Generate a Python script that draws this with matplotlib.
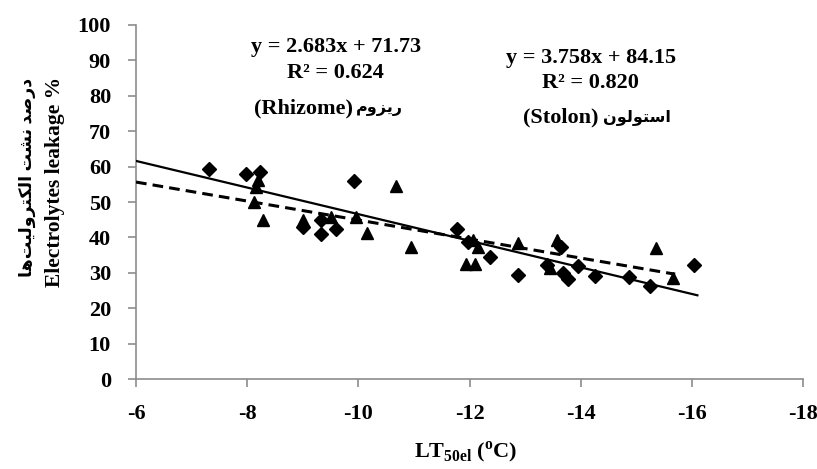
import numpy as np
import matplotlib.pyplot as plt

plt.rcParams['font.family'] = ['Liberation Serif', 'DejaVu Sans']
plt.rcParams['font.weight'] = 'bold'
plt.rcParams['axes.unicode_minus'] = False
plt.rcParams['mathtext.fontset'] = 'custom'
plt.rcParams['mathtext.rm'] = 'Liberation Serif:bold'
plt.rcParams['mathtext.bf'] = 'Liberation Serif:bold'

# rhizome (diamonds, dashed trend)
rhizome_x = [-7.32, -7.98, -8.23, -9.0, -9.33, -9.33, -9.6, -9.92, -11.77, -11.97, -12.37,
             -12.88, -13.65, -13.39, -13.68, -13.77, -13.95, -14.26, -14.87, -15.25, -16.04]
rhizome_y = [59.2, 57.8, 58.6, 42.8, 44.9, 41.0, 42.3, 56.0, 42.3, 38.8, 34.4,
             29.4, 37.2, 32.2, 30.0, 28.2, 31.9, 29.1, 28.7, 26.3, 32.2]
# stolon (triangles, solid trend)
stolon_x = [-8.2, -8.15, -8.12, -8.29, -9.0, -9.51, -9.96, -10.16, -10.67, -10.95, -12.07,
            -12.15, -11.94, -12.09, -12.88, -13.57, -13.44, -15.36, -15.66]
stolon_y = [56.2, 54.3, 50.1, 44.9, 44.9, 45.9, 45.9, 41.3, 54.5, 37.2, 39.3,
            37.4, 32.5, 32.5, 38.3, 39.3, 31.3, 36.9, 28.4]

rhizome_fit = (2.683, 71.73)
stolon_fit = (3.758, 84.15)
rhizome_line_x = np.array([-6, -15.7])
stolon_line_x = np.array([-6, -16.1])

# Persian text, written in presentation forms in visual order
fa_ylabel = ("\uFEA9\uFEAD\uFEBB\uFEAA \uFEE7\uFEB8\uFE96 "
             "\uFE8D\uFEDF\uFEDC\uFE98\uFEAE\uFEED\uFEDF\uFEF4\uFE96\uFEEB\uFE8E")[::-1]
fa_rhizome = "\uFEAD\uFEF3\uFEB0\uFEED\uFEE1"[::-1]
fa_stolon = "\uFE8D\uFEB3\uFE98\uFEEE\uFEDF\uFEEE\uFEE5"[::-1]

W, H = 817, 469
fig = plt.figure(figsize=(W / 100, H / 100), dpi=100)
ax = fig.add_axes([136 / W, 1 - 379 / H, (803 - 136) / W, (379 - 25) / H])

ax.plot(rhizome_x, rhizome_y, 'D', color='black', ms=7.5, zorder=3)
ax.plot(stolon_x, stolon_y, '^', color='black', ms=9, zorder=3)
ax.plot(rhizome_line_x, rhizome_fit[0] * rhizome_line_x + rhizome_fit[1],
        color='black', lw=2.2, ls=(0, (3.5, 2)), zorder=4)
ax.plot(stolon_line_x, stolon_fit[0] * stolon_line_x + stolon_fit[1],
        color='black', lw=1.6, zorder=4)

ax.set_xlim(-6, -18)
ax.set_ylim(0, 100)
ax.set_xticks(np.arange(-6, -19, -2))
ax.set_yticks(np.arange(0, 101, 10))
for s in ['top', 'right']:
    ax.spines[s].set_visible(False)
for s in ['left', 'bottom']:
    ax.spines[s].set_color('#8c8c8c')
    ax.spines[s].set_linewidth(1.2)
ax.tick_params(axis='both', direction='out', length=6, width=1.2, color='#8c8c8c',
               labelsize=16)
ax.tick_params(axis='y', pad=12)
ax.tick_params(axis='x', pad=12)

fs = 16
fa_fs = 11.5
fig.text(336 / W, 1 - 47 / H, "y = 2.683x + 71.73", ha='center', va='center', fontsize=fs)
fig.text(335 / W, 1 - 73 / H, "R² = 0.624", ha='center', va='center', fontsize=fs)
fig.text(353 / W, 1 - 108 / H, "(Rhizome)", ha='right', va='center', fontsize=fs)
fig.text(356 / W, 1 - 108 / H, fa_rhizome, ha='left', va='center', fontsize=fa_fs)
fig.text(591 / W, 1 - 58 / H, "y = 3.758x + 84.15", ha='center', va='center', fontsize=fs)
fig.text(590 / W, 1 - 83 / H, "R² = 0.820", ha='center', va='center', fontsize=fs)
fig.text(598 / W, 1 - 117 / H, "(Stolon)", ha='right', va='center', fontsize=fs)
fig.text(603 / W, 1 - 117 / H, fa_stolon, ha='left', va='center', fontsize=fa_fs)

fig.text(27 / W, 1 - 177 / H, fa_ylabel, rotation=90, ha='center', va='center', fontsize=12.5)
fig.text(55 / W, 1 - 182 / H, "Electrolytes leakage %", rotation=90, ha='center', va='center',
         fontsize=15.5)
fig.text(466 / W, 1 - 452 / H, r"LT$_{\mathrm{50el}}$ ($^{\mathrm{o}}$C)", ha='center',
         va='center', fontsize=fs)

fig.savefig('out.png', dpi=100)
